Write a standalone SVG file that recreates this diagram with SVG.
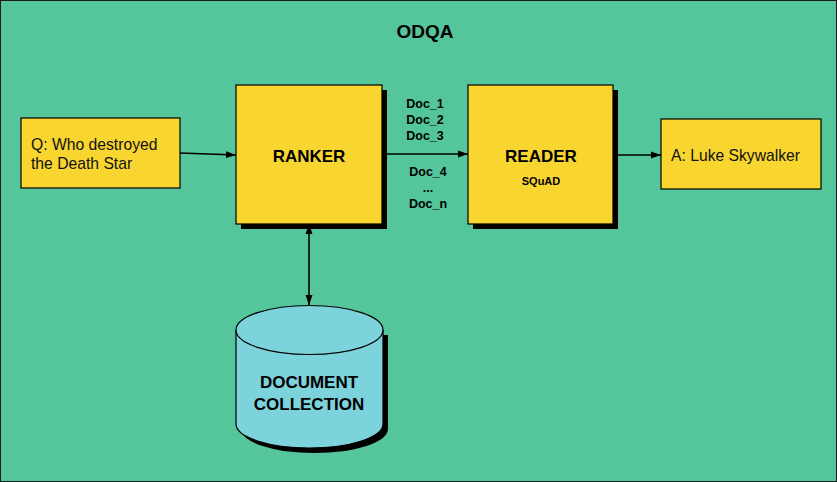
<svg xmlns="http://www.w3.org/2000/svg" width="837" height="482" viewBox="0 0 837 482">
<defs>
<style>
.box{fill:#F9D62F;stroke:#000;stroke-width:1.2}
.shadow{fill:#000}
.bold{font-family:"Liberation Sans",Arial,sans-serif;font-weight:bold;fill:#000;text-anchor:middle}
.reg{font-family:"Liberation Sans",Arial,sans-serif;fill:#111;font-size:15.7px}
.line{stroke:#000;stroke-width:1.6;fill:none}
</style>
<marker id="arr" viewBox="0 0 10 10" refX="10" refY="5" markerWidth="10" markerHeight="10" markerUnits="userSpaceOnUse" orient="auto-start-reverse">
<path d="M0,1.5 L10,5 L0,8.5 z" fill="#000"/>
</marker>
</defs>
<rect x="0.5" y="0.5" width="836" height="481" fill="#55C59B" stroke="#1a1a1a" stroke-width="1"/>
<text class="bold" x="425" y="38" font-size="19">ODQA</text>

<g id="question">
<rect class="box" x="21" y="118" width="159" height="70"/>
<text class="reg" x="31" y="150">Q: Who destroyed</text>
<text class="reg" x="31" y="169">the Death Star</text>
</g>

<g id="ranker">
<rect class="shadow" x="241" y="90" width="146" height="139"/>
<rect class="box" x="236" y="85" width="146" height="139"/>
<text class="bold" x="309" y="162" font-size="17">RANKER</text>
</g>

<g id="reader">
<rect class="shadow" x="473" y="90" width="145" height="139"/>
<rect class="box" x="468" y="85" width="145" height="139"/>
<text class="bold" x="541" y="162" font-size="17">READER</text>
<text class="bold" x="541" y="185" font-size="11">SQuAD</text>
</g>

<g id="answer">
<rect class="box" x="661" y="119" width="160" height="70"/>
<text class="reg" x="671" y="161">A: Luke Skywalker</text>
</g>

<g id="collection">
<path class="shadow" d="M241,335 L388,335 L388,429 A73.5,24 0 0 1 241,429 Z"/>
<path d="M236,330 L383,330 L383,424 A73.5,24 0 0 1 236,424 Z" fill="#7DD3DC" stroke="#000" stroke-width="1.2"/>
<ellipse cx="309.5" cy="330" rx="73.5" ry="24.5" fill="#7DD3DC" stroke="#000" stroke-width="1.2"/>
<text class="bold" x="309" y="388" font-size="17">DOCUMENT</text>
<text class="bold" x="309" y="410" font-size="17">COLLECTION</text>
</g>

<g id="connectors">
<line class="line" x1="180" y1="153" x2="236" y2="155" marker-end="url(#arr)"/>
<line class="line" x1="382" y1="154" x2="468" y2="154" marker-end="url(#arr)"/>
<line class="line" x1="613" y1="155" x2="661" y2="155" marker-end="url(#arr)"/>
<line class="line" x1="309" y1="224" x2="309" y2="305" marker-start="url(#arr)" marker-end="url(#arr)"/>
<g font-size="12.5">
<text class="bold" x="425" y="108">Doc_1</text>
<text class="bold" x="425" y="124">Doc_2</text>
<text class="bold" x="425" y="140">Doc_3</text>
<text class="bold" x="428" y="176">Doc_4</text>
<text class="bold" x="428" y="192">...</text>
<text class="bold" x="428" y="208">Doc_n</text>
</g>
</g>
</svg>
